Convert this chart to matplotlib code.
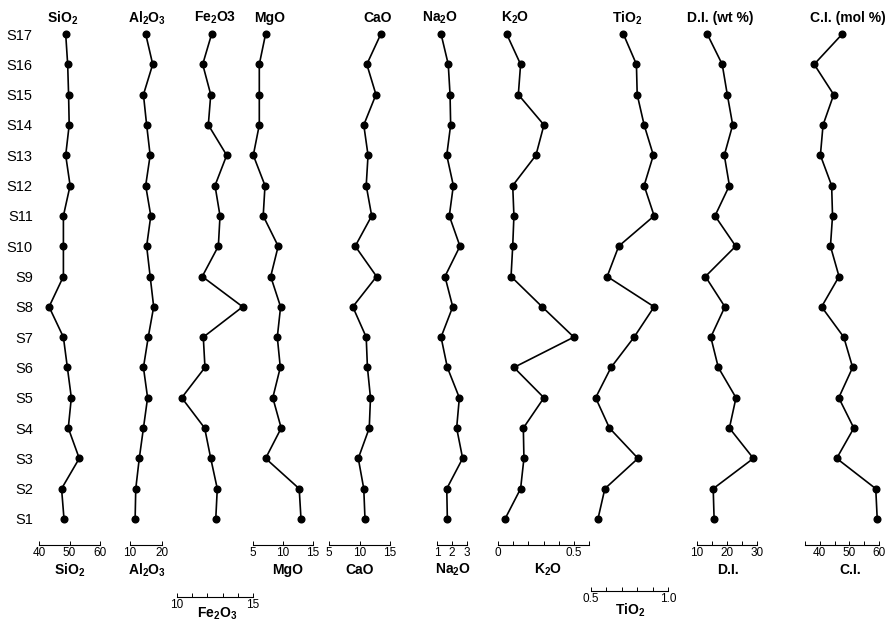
import matplotlib; matplotlib.use("Agg")
import matplotlib.pyplot as plt

plt.rcParams["font.family"] = ["Liberation Sans", "DejaVu Sans"]
plt.rcParams["mathtext.fontset"] = "custom"
plt.rcParams["mathtext.rm"] = "Liberation Sans"
plt.rcParams["mathtext.bf"] = "Liberation Sans:bold"

W, H = 893, 624

# samples S1 (bottom) .. S17 (top)
samples = [f"S{i}" for i in range(1, 18)]
depth = list(range(1, 18))

sio2 = [48.2, 47.4, 53.2, 49.6, 50.6, 49.3, 48.0, 43.3, 48.0, 48.0, 48.0, 50.2, 48.75, 49.9, 49.7, 49.4, 48.75]
al2o3 = [11.6, 11.8, 12.9, 14.2, 15.5, 14.2, 15.7, 17.4, 16.3, 15.2, 16.5, 14.9, 16.3, 15.2, 14.2, 17.1, 14.9]
fe2o3 = [12.55, 12.65, 12.22, 11.82, 10.31, 11.84, 11.73, 14.32, 11.66, 12.72, 12.83, 12.5, 13.27, 12.06, 12.22, 11.69, 12.28]
mgo = [13.0, 12.7, 7.1, 9.7, 8.3, 9.55, 9.05, 9.6, 7.95, 9.2, 6.7, 7.0, 5.05, 6.05, 6.05, 6.05, 7.1]
cao = [10.9, 10.7, 9.8, 11.6, 11.8, 11.3, 11.1, 8.9, 12.8, 9.3, 12.0, 11.1, 11.4, 10.7, 12.7, 11.2, 13.5]
na2o = [1.69, 1.65, 2.71, 2.31, 2.49, 1.69, 1.27, 2.05, 1.53, 2.53, 1.82, 2.09, 1.65, 1.91, 1.87, 1.75, 1.27]
k2o = [0.046, 0.149, 0.171, 0.167, 0.303, 0.105, 0.50, 0.291, 0.086, 0.097, 0.105, 0.097, 0.25, 0.303, 0.134, 0.149, 0.057]
tio2 = [0.545, 0.59, 0.805, 0.62, 0.53, 0.63, 0.78, 0.91, 0.605, 0.68, 0.91, 0.845, 0.905, 0.845, 0.80, 0.795, 0.71]
di = [15.7, 15.4, 28.8, 20.8, 23.0, 17.1, 14.6, 19.3, 12.8, 22.9, 16.0, 20.8, 19.1, 21.9, 20.1, 18.4, 13.4]
ci = [59.4, 58.9, 45.7, 51.5, 46.4, 51.1, 48.1, 40.6, 46.5, 43.6, 44.3, 44.0, 40.2, 41.1, 44.7, 38.1, 47.6]

TOP_PX, BOT_PX = 34, 519   # pixel rows of S17 and S1

fig = plt.figure(figsize=(W / 100, H / 100), dpi=100)
fig.patch.set_facecolor("white")


def fx(px):
    return px / W


def fy(py):
    return 1 - py / H


def panel(vals, top, name, xlim, pxr, line_y, major, minor, top_x, name_xy, first=False):
    ax = fig.add_axes([fx(pxr[0]), fy(BOT_PX), (pxr[1] - pxr[0]) / W, (BOT_PX - TOP_PX) / H])
    ax.set_xlim(*xlim)
    ax.set_ylim(1, 17)
    ax.patch.set_visible(False)
    ax.plot(vals, depth, "-o", color="black", lw=1.2, ms=4.8, clip_on=False, zorder=3)
    for s in ["top", "right", "left"]:
        ax.spines[s].set_visible(False)
    ax.spines["bottom"].set_position(("outward", (line_y - BOT_PX) * 0.72))
    ax.spines["bottom"].set_linewidth(0.8)
    ax.set_xticks(major)
    ax.set_xticklabels([f"{m:g}" for m in major])
    ax.set_xticks(minor, minor=True)
    ax.tick_params(axis="x", which="both", direction="in", length=3.0, width=0.7,
                   labelsize=8.5, pad=1.5)
    if first:
        ax.set_yticks(depth)
        ax.set_yticklabels(samples, fontsize=10.5)
        ax.tick_params(axis="y", length=0, pad=4.5)
    else:
        ax.set_yticks([])
    fig.text(fx(top_x), fy(18), top, ha="center", va="center", fontsize=10, fontweight="bold")
    fig.text(fx(name_xy[0]), fy(name_xy[1]), name, ha="center", va="center", fontsize=10,
             fontweight="bold")
    return ax


panel(sio2, r"$\mathbf{SiO_2}$", r"$\mathbf{SiO_2}$", (40, 60), (39, 100), 545,
      [40, 50, 60], [], 63, (70, 570), first=True)
panel(al2o3, r"$\mathbf{Al_2O_3}$", r"$\mathbf{Al_2O_3}$", (10, 20), (130, 162), 545,
      [10, 20], [], 147, (147, 570))
panel(fe2o3, r"$\mathbf{Fe_2O3}$", r"$\mathbf{Fe_2O_3}$", (10, 15), (177, 253), 597,
      [10, 15], [11, 12, 13, 14], 215, (217, 614))
panel(mgo, "MgO", "MgO", (5, 15), (253, 313), 545,
      [5, 10, 15], [], 270, (288, 570))
panel(cao, "CaO", "CaO", (5, 15), (329, 390), 545,
      [5, 10, 15], [], 378, (360, 570))
panel(na2o, r"$\mathbf{Na_2O}$", r"$\mathbf{Na_2O}$", (1, 3), (437, 467), 545,
      [1, 2, 3], [], 440, (453, 570))
panel(k2o, r"$\mathbf{K_2O}$", r"$\mathbf{K_2O}$", (0, 0.6), (498, 589), 545,
      [0, 0.5], [0.1, 0.2, 0.3, 0.4, 0.6], 515, (548, 570))
ax_ti = panel(tio2, r"$\mathbf{TiO_2}$", r"$\mathbf{TiO_2}$", (0.5, 1.0), (591, 668), 591,
              [0.5, 1.0], [0.6, 0.7, 0.8, 0.9], 627, (630, 610))
ax_ti.set_xticklabels(["0.5", "1.0"])
panel(di, "D.I. (wt %)", "D.I.", (10, 30), (697, 757), 545,
      [10, 20, 30], [15, 25], 720, (728, 570))
panel(ci, "C.I. (mol %)", "C.I.", (35, 60), (805, 879), 545,
      [40, 50, 60], [35, 45, 55], 848, (850, 570))

fig.savefig("out.png", dpi=100, facecolor="white")
